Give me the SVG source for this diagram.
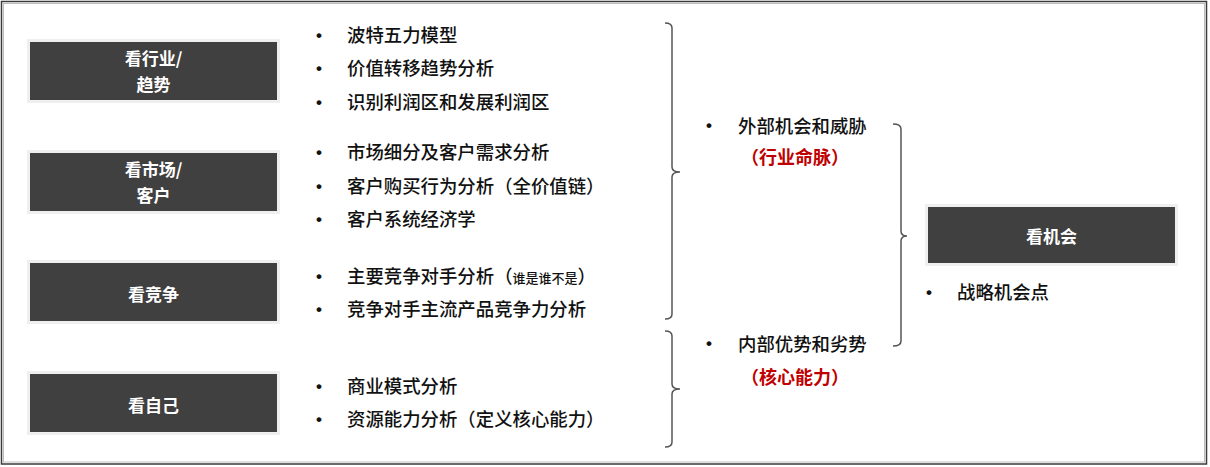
<svg xmlns="http://www.w3.org/2000/svg" width="1210" height="467" viewBox="0 0 1210 467">
<style>
.halo{fill:#efefef}
.box{fill:#404040}
.bt{font-family:"Noto Sans CJK SC","Liberation Serif",serif;font-size:17px;font-weight:bold;fill:#ffffff;text-anchor:middle}
.t{font-family:"Noto Sans CJK SC","Liberation Sans",sans-serif;font-size:18.4px;font-weight:500;fill:#111111}
.s{font-size:13px}
.b{font-family:"Liberation Sans",sans-serif;font-size:17px;font-weight:bold;fill:#111111}
.r{font-family:"Noto Sans CJK SC","Liberation Sans",sans-serif;font-size:18px;font-weight:bold;fill:#c00000}
.br{fill:none;stroke:#555;stroke-width:1.5}
</style>
<rect x="0" y="0" width="1210" height="467" fill="#ffffff"/>
<rect x="1.5" y="1.5" width="1205" height="462.5" fill="none" stroke="#3a3a3a" stroke-width="1.5"/>
<rect x="3.5" y="3.5" width="1201" height="458.5" fill="none" stroke="#bdbdbd" stroke-width="1"/>

<g id="node-industry">
<rect class="halo" x="27" y="39" width="253" height="64"/>
<rect class="box" x="30" y="42" width="247" height="58"/>
<text class="bt" x="153.5" y="65">看行业/</text>
<text class="bt" x="153.5" y="91">趋势</text>
</g>
<g id="node-market">
<rect class="halo" x="27" y="150" width="253" height="64"/>
<rect class="box" x="30" y="153" width="247" height="58"/>
<text class="bt" x="153.5" y="176">看市场/</text>
<text class="bt" x="153.5" y="202">客户</text>
</g>
<g id="node-competition">
<rect class="halo" x="27" y="260" width="253" height="64"/>
<rect class="box" x="30" y="263" width="247" height="58"/>
<text class="bt" x="153.5" y="301">看竞争</text>
</g>
<g id="node-self">
<rect class="halo" x="27" y="371" width="253" height="64"/>
<rect class="box" x="30" y="374" width="247" height="58"/>
<text class="bt" x="153.5" y="412">看自己</text>
</g>
<g id="node-opportunity">
<rect class="halo" x="925" y="204" width="253" height="62"/>
<rect class="box" x="928" y="207" width="247" height="56"/>
<text class="bt" x="1051.5" y="243">看机会</text>
</g>

<g id="list-industry">
<text class="b" x="316" y="41">•</text><text class="t" x="347" y="42">波特五力模型</text>
<text class="b" x="316" y="74">•</text><text class="t" x="347" y="75">价值转移趋势分析</text>
<text class="b" x="316" y="108">•</text><text class="t" x="347" y="109">识别利润区和发展利润区</text>
</g>
<g id="list-market">
<text class="b" x="316" y="158">•</text><text class="t" x="347" y="159">市场细分及客户需求分析</text>
<text class="b" x="316" y="192">•</text><text class="t" x="347" y="193">客户购买行为分析（全价值链）</text>
<text class="b" x="316" y="225">•</text><text class="t" x="347" y="226">客户系统经济学</text>
</g>
<g id="list-competition">
<text class="b" x="316" y="282">•</text><text class="t" x="347" y="283">主要竞争对手分析（<tspan class="s">谁是谁不是</tspan>）</text>
<text class="b" x="316" y="315">•</text><text class="t" x="347" y="316">竞争对手主流产品竞争力分析</text>
</g>
<g id="list-self">
<text class="b" x="316" y="392">•</text><text class="t" x="347" y="393">商业模式分析</text>
<text class="b" x="316" y="425">•</text><text class="t" x="347" y="426">资源能力分析（定义核心能力）</text>
</g>

<g id="node-external">
<text class="b" x="706" y="131">•</text><text class="t" x="738" y="133">外部机会和威胁</text>
<text class="r" x="795" y="164" text-anchor="middle">（行业命脉）</text>
</g>
<g id="node-internal">
<text class="b" x="706" y="349">•</text><text class="t" x="738" y="351">内部优势和劣势</text>
<text class="r" x="795" y="384" text-anchor="middle">（核心能力）</text>
</g>
<g id="list-opportunity">
<text class="b" x="926" y="298">•</text><text class="t" x="957" y="299">战略机会点</text>
</g>

<g id="connectors">
<path class="br" d="M665,23 Q672,23 672,28 V167 Q672,172 680,172 Q672,172 672,177 V314 Q672,319 665,319"/>
<path class="br" d="M665,331 Q672,331 672,336 V384 Q672,389 680,389 Q672,389 672,394 V442 Q672,447 665,447"/>
<path class="br" d="M893,124 Q901,124 901,129 V231 Q901,236 907,236 Q901,236 901,241 V341 Q901,346 893,346"/>
</g>
</svg>
